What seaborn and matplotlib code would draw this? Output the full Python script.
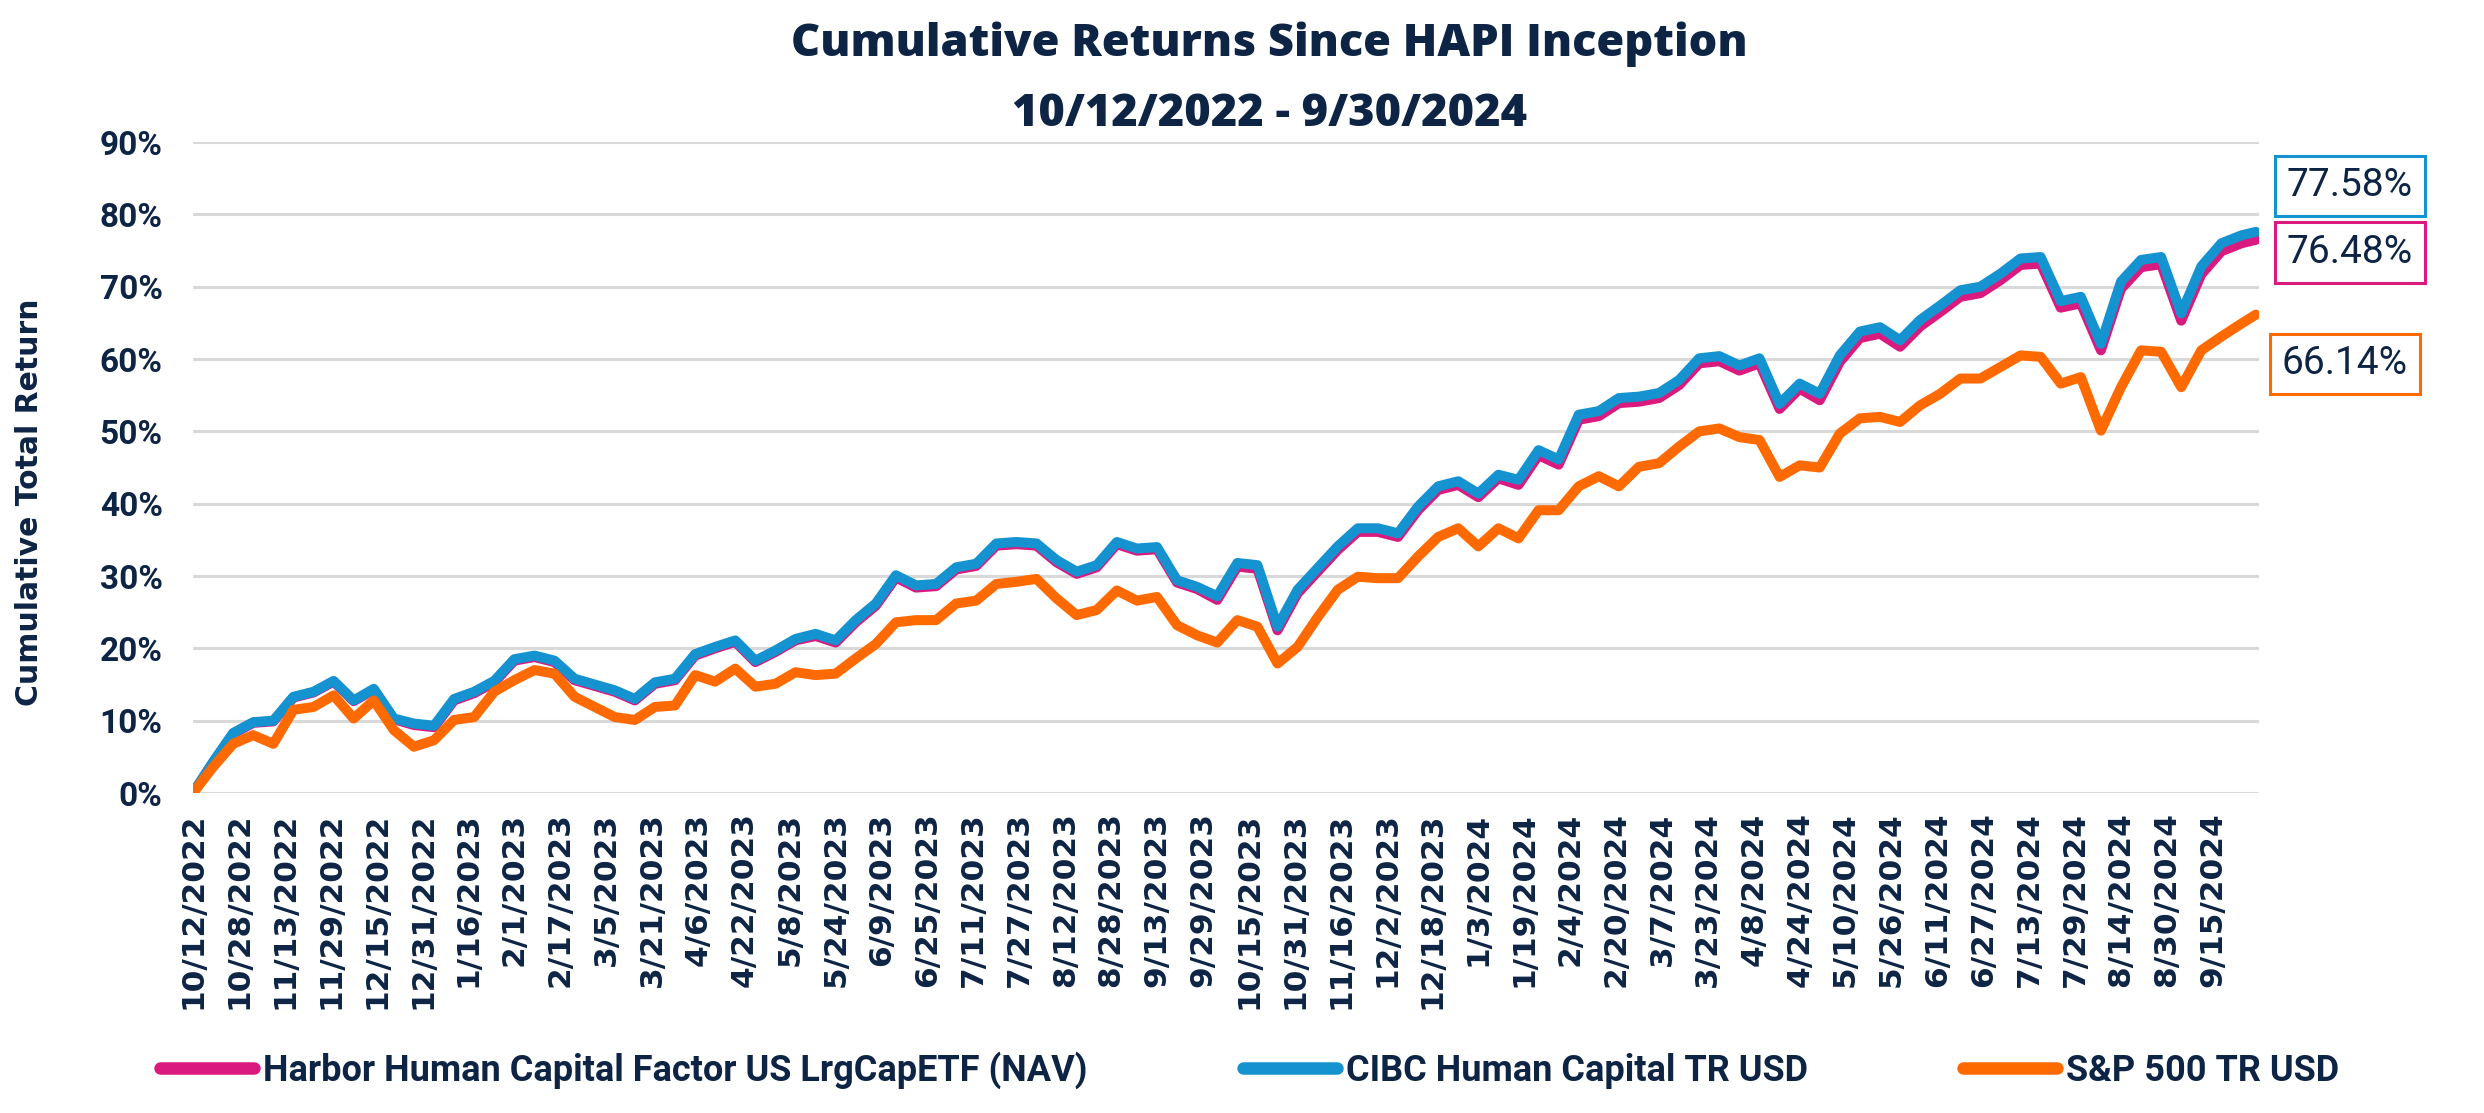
import pandas as pd
import seaborn as sns
import matplotlib.pyplot as plt
from matplotlib.lines import Line2D

# weekly samples, plus the final day
dates = pd.date_range("2022-10-12", periods=103, freq="7D").append(pd.DatetimeIndex(["2024-09-30"]))

cibc = [0.0, 4.3, 8.3, 9.8, 10.0, 13.3, 14.0, 15.5, 12.8, 14.4,
        10.3, 9.6, 9.3, 13.0, 14.0, 15.5, 18.5, 19.0, 18.3, 15.8,
        15.0, 14.2, 13.0, 15.3, 15.8, 19.2, 20.2, 21.1, 18.3, 19.7,
        21.3, 22.0, 21.1, 23.9, 26.2, 30.1, 28.7, 28.9, 31.2, 31.7,
        34.5, 34.7, 34.5, 32.2, 30.6, 31.5, 34.7, 33.8, 34.0, 29.4,
        28.5, 27.2, 31.8, 31.5, 23.0, 28.1, 31.1, 34.1, 36.6, 36.6,
        35.9, 39.6, 42.4, 43.1, 41.4, 44.0, 43.3, 47.4, 46.1, 52.3,
        52.8, 54.6, 54.8, 55.3, 57.1, 60.1, 60.4, 59.1, 60.1, 53.8,
        56.6, 55.2, 60.5, 63.8, 64.4, 62.6, 65.4, 67.4, 69.5, 70.0,
        71.8, 73.9, 74.1, 68.0, 68.6, 62.1, 70.7, 73.7, 74.1, 66.3,
        72.8, 76.0, 77.1, 77.58]

harbor = [0.0, 4.2, 8.2, 9.7, 9.9, 13.2, 13.9, 15.4, 12.7, 14.3,
          10.2, 9.4, 9.1, 12.8, 13.8, 15.3, 18.3, 18.8, 18.1, 15.6,
          14.8, 14.0, 12.8, 15.1, 15.6, 19.0, 20.0, 20.9, 18.1, 19.5,
          21.1, 21.7, 20.8, 23.6, 25.9, 29.8, 28.4, 28.6, 30.9, 31.4,
          34.2, 34.4, 34.2, 31.9, 30.3, 31.2, 34.4, 33.5, 33.7, 29.1,
          28.2, 26.7, 31.3, 31.0, 22.5, 27.6, 30.6, 33.6, 36.1, 36.1,
          35.4, 39.1, 41.9, 42.6, 40.9, 43.5, 42.6, 46.7, 45.4, 51.6,
          52.1, 53.9, 54.1, 54.6, 56.4, 59.4, 59.7, 58.4, 59.4, 53.1,
          55.9, 54.3, 59.6, 62.9, 63.5, 61.7, 64.5, 66.5, 68.6, 69.1,
          70.9, 73.0, 73.2, 67.1, 67.7, 61.2, 69.7, 72.7, 73.1, 65.3,
          71.7, 74.9, 76.0, 76.48]

sp500 = [0.0, 3.6, 6.8, 8.0, 6.8, 11.5, 11.9, 13.5, 10.3, 12.8,
         8.7, 6.4, 7.3, 10.1, 10.5, 14.0, 15.6, 17.0, 16.5, 13.3,
         11.9, 10.5, 10.1, 11.9, 12.1, 16.3, 15.4, 17.2, 14.7, 15.1,
         16.7, 16.3, 16.5, 18.6, 20.6, 23.6, 23.9, 23.9, 26.2, 26.6,
         28.9, 29.2, 29.6, 26.9, 24.6, 25.3, 28.0, 26.6, 27.1, 23.2,
         21.8, 20.8, 23.9, 23.0, 17.9, 20.2, 24.3, 28.1, 29.9, 29.7,
         29.7, 32.7, 35.4, 36.6, 34.1, 36.6, 35.2, 39.1, 39.1, 42.4,
         43.8, 42.4, 45.1, 45.6, 47.9, 50.0, 50.4, 49.2, 48.8, 43.7,
         45.3, 45.0, 49.7, 51.8, 52.0, 51.3, 53.6, 55.2, 57.3, 57.3,
         58.9, 60.5, 60.3, 56.6, 57.5, 50.1, 56.1, 61.2, 61.0, 56.1,
         61.2, 63.1, 64.9, 66.14]

names = ["Harbor Human Capital Factor US LrgCapETF (NAV)",
         "CIBC Human Capital TR USD",
         "S&P 500 TR USD"]
colors = ["#DA1A7E", "#1592D0", "#FF6A00"]
end_labels = ["76.48%", "77.58%", "66.14%"]

navy = "#0D2444"

df = pd.concat([
    pd.DataFrame({"date": dates, "series": names[0], "value": harbor}),
    pd.DataFrame({"date": dates, "series": names[1], "value": cibc}),
    pd.DataFrame({"date": dates, "series": names[2], "value": sp500}),
])

sns.set_style("white")
plt.rcParams["font.family"] = ["Roboto", "DejaVu Sans"]

fig = plt.figure(figsize=(24.84, 11.13), dpi=100)
ax = fig.add_axes([0.0777, 0.2875, 0.8316, 0.5849])

sns.lineplot(
    data=df,
    x="date",
    y="value",
    hue="series",
    hue_order=names,
    palette=colors,
    linewidth=7.2,
    legend=False,
    ax=ax,
)
for ln in ax.lines:
    ln.set_solid_joinstyle("round")
    ln.set_solid_capstyle("round")

ax.set_ylim(0, 90)
ax.set_xlim(pd.Timestamp("2022-10-12"), pd.Timestamp("2024-10-01"))
ax.set_yticks(range(0, 91, 10))
ax.set_yticklabels([f"{v}%" for v in range(0, 91, 10)],
                   fontsize=24, fontweight="bold", color=navy)
ticks = pd.date_range("2022-10-12", "2024-09-30", freq="16D")
ax.set_xticks(ticks)
ax.set_xticklabels([f"{t.month}/{t.day}/{t.year}" for t in ticks], rotation=90,
                   fontsize=22.5, fontweight="bold", color=navy, family="DejaVu Sans")
ax.tick_params(axis="y", length=0, pad=22)
ax.tick_params(axis="x", length=0, pad=14)
ax.yaxis.grid(True, color="#D9D9D9", linewidth=2.2)
ax.xaxis.grid(False)
ax.set_axisbelow(True)
sns.despine(ax=ax, left=True, bottom=True)
ax.set(xlabel=None, ylabel=None)

fig.text(0.012, 0.549, "Cumulative Total Return", rotation=90, ha="center", va="center",
         fontsize=21.5, fontweight="bold", color=navy, family="DejaVu Sans")

title_font = dict(fontsize=32.5, fontweight=800, color=navy, family=["Open Sans", "DejaVu Sans"])
fig.text(0.511, 0.960, "Cumulative Returns Since HAPI Inception", ha="center", va="center", **title_font)
fig.text(0.511, 0.897, "10/12/2022 - 9/30/2024", ha="center", va="center", **title_font)

# end-value boxes
box_pos = [(0.946, 0.773), (0.946, 0.833), (0.944, 0.673)]
for (bx, by), lab, c in zip(box_pos, end_labels, colors):
    fig.text(bx, by, lab, ha="center", va="center", fontsize=28, color=navy,
             bbox=dict(boxstyle="square,pad=0.3", fc="white", ec=c, lw=2.2))

handles = [Line2D([0], [0], color=c, lw=9, solid_capstyle="round") for c in colors]
fig.legend(handles, names, loc="center", bbox_to_anchor=(0.503, 0.0386), ncol=3,
           frameon=False, handlelength=2.6, handletextpad=0.25, columnspacing=4.3,
           prop={"size": 26, "weight": "bold"}, labelcolor=navy)

plt.savefig("out.png", dpi=100)
